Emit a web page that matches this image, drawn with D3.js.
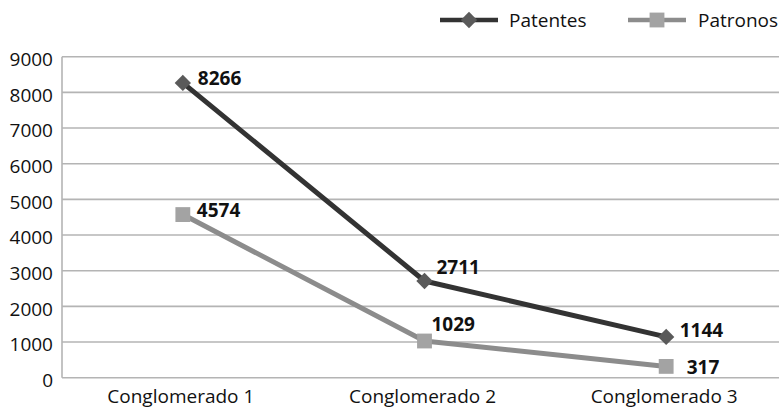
<!DOCTYPE html>
<html><head><meta charset="utf-8">
<script src="https://cdn.jsdelivr.net/npm/d3@7/dist/d3.min.js"></script>
<style>body{margin:0;background:#fff}svg{display:block}text{font-family:"Open Sans",sans-serif}</style>
</head><body><svg id="c" width="779" height="414"></svg>
<script>
const categories = ["Conglomerado 1", "Conglomerado 2", "Conglomerado 3"];
const patentes = [8266, 2711, 1144];
const patronos = [4574, 1029, 317];
const yTicks = [0, 1000, 2000, 3000, 4000, 5000, 6000, 7000, 8000, 9000];
const seriesNames = ["Patentes", "Patronos"];
// label offsets (layout only)
const patentesLabelOff = [[15, -4.5], [12, -13.5], [13.5, -6.5]];
const patronosLabelOff = [[14, -4], [7, -16], [20.5, 1]];

const svg = d3.select("#c");
const x = d3.scaleBand().domain(categories).range([62, 787]);
const cx = c => x(c) + x.bandwidth() / 2;
const y = d3.scaleLinear().domain([0, 9000]).range([377.7, 56.7]);

svg.append("g").selectAll("line").data(yTicks).join("line")
  .attr("x1", 62).attr("x2", 779).attr("y1", d => y(d)).attr("y2", d => y(d))
  .attr("stroke", "#b4b4b4").attr("stroke-width", 1.6);
svg.append("line").attr("x1", 62).attr("x2", 62).attr("y1", y(9000)).attr("y2", y(0))
  .attr("stroke", "#b4b4b4").attr("stroke-width", 1.6);
svg.append("g").selectAll("text").data(yTicks).join("text")
  .attr("x", 53).attr("y", d => y(d) + 9.3).attr("text-anchor", "end")
  .attr("font-size", 19).attr("fill", "#111").text(d => d);
svg.append("g").selectAll("text").data(categories).join("text")
  .attr("x", d => cx(d) - 2).attr("y", 403).attr("text-anchor", "middle")
  .attr("font-size", 19).attr("fill", "#111").text(d => d);

const line = d3.line().x((d, i) => cx(categories[i])).y(d => y(d));
const diamond = d3.symbol().type(d3.symbolDiamond2).size(170);
const square = d3.symbol().type(d3.symbolSquare).size(220);

function drawSeries(vals, lineColor, markColor, sym, offs) {
  svg.append("path").datum(vals).attr("d", line).attr("fill", "none")
    .attr("stroke", lineColor).attr("stroke-width", 5).attr("stroke-linejoin", "round");
  svg.append("g").selectAll("path").data(vals).join("path")
    .attr("d", sym).attr("fill", markColor)
    .attr("transform", (d, i) => `translate(${cx(categories[i])},${y(d)})`);
  svg.append("g").selectAll("text").data(vals).join("text")
    .attr("x", (d, i) => cx(categories[i]) + offs[i][0])
    .attr("y", (d, i) => y(d) + 6.5 + offs[i][1])
    .attr("font-size", 19).attr("font-weight", "bold").attr("fill", "#111").text(d => d);
}
drawSeries(patronos, "#8c8c8c", "#a3a3a3", square, patronosLabelOff);
drawSeries(patentes, "#333333", "#5a5a5a", diamond, patentesLabelOff);

const leg = [
  {name: seriesNames[0], x1: 440, x2: 498, text: 509, lc: "#333333", mc: "#5a5a5a", sym: diamond},
  {name: seriesNames[1], x1: 628, x2: 686, text: 698, lc: "#8c8c8c", mc: "#a3a3a3", sym: square}
];
const lg = svg.append("g").selectAll("g").data(leg).join("g");
lg.append("line").attr("x1", d => d.x1).attr("x2", d => d.x2).attr("y1", 20).attr("y2", 20)
  .attr("stroke", d => d.lc).attr("stroke-width", 4.5);
lg.append("path").attr("d", d => d.sym()).attr("fill", d => d.mc)
  .attr("transform", d => `translate(${(d.x1 + d.x2) / 2},20)`);
lg.append("text").attr("x", d => d.text).attr("y", 26.5).attr("font-size", 19)
  .attr("fill", "#111").text(d => d.name);
</script></body></html>
